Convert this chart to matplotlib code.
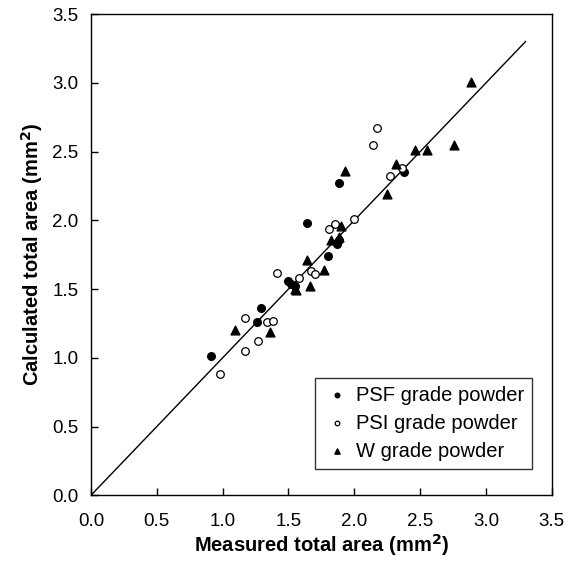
import matplotlib
matplotlib.use("Agg")
import matplotlib.pyplot as plt

plt.rcParams["font.family"] = ["Liberation Sans", "DejaVu Sans"]

# PSF grade powder (filled circles)
psf_x = [0.91, 1.29, 1.26, 1.50, 1.52, 1.55, 1.64, 1.80, 1.87, 1.88, 1.88, 2.38]
psf_y = [1.01, 1.36, 1.26, 1.56, 1.54, 1.52, 1.98, 1.74, 1.83, 1.86, 2.27, 2.35]

# PSI grade powder (open circles)
psi_x = [0.98, 1.17, 1.17, 1.27, 1.34, 1.38, 1.41, 1.58, 1.67, 1.70, 1.81, 1.85,
         2.00, 2.14, 2.17, 2.27, 2.36]
psi_y = [0.88, 1.05, 1.29, 1.12, 1.26, 1.27, 1.62, 1.58, 1.63, 1.61, 1.94, 1.97,
         2.01, 2.55, 2.67, 2.32, 2.38]

# W grade powder (filled triangles)
w_x = [1.09, 1.36, 1.55, 1.56, 1.64, 1.66, 1.77, 1.82, 1.88, 1.90, 1.93, 2.25,
       2.32, 2.46, 2.55, 2.76, 2.89]
w_y = [1.20, 1.19, 1.50, 1.49, 1.71, 1.52, 1.64, 1.86, 1.88, 1.96, 2.36, 2.19,
       2.41, 2.51, 2.51, 2.55, 3.01]

line_x = [0.0, 3.3]

fig = plt.figure(figsize=(5.76, 5.66), dpi=100)
ax = fig.add_axes([0.158, 0.125, 0.80, 0.85])

ax.plot(line_x, line_x, color="black", linewidth=1.0, zorder=1)
ax.scatter(psf_x, psf_y, s=30, marker="o", color="black", zorder=3,
           label="PSF grade powder")
ax.scatter(psi_x, psi_y, s=30, marker="o", facecolor="white", edgecolor="black",
           linewidth=0.9, zorder=3, label="PSI grade powder")
ax.scatter(w_x, w_y, s=40, marker="^", color="black", zorder=3,
           label="W grade powder")

ax.set_xlim(0, 3.5)
ax.set_ylim(0, 3.5)
ticks = [0.0, 0.5, 1.0, 1.5, 2.0, 2.5, 3.0, 3.5]
ax.set_xticks(ticks)
ax.set_yticks(ticks)
ax.set_xticklabels([f"{t:.1f}" for t in ticks])
ax.set_yticklabels([f"{t:.1f}" for t in ticks])
ax.tick_params(labelsize=13.5, direction="in", length=5, width=1, pad=9)
ax.tick_params(axis="x", pad=13)
for sp in ax.spines.values():
    sp.set_linewidth(1.0)

ax.set_xlabel("Measured total area (mm$^\\mathbf{2}$)", fontsize=14.5, fontweight="bold",
              labelpad=1)
ax.set_ylabel("Calculated total area (mm$^\\mathbf{2}$)", fontsize=14.5, fontweight="bold",
              labelpad=5)

leg = ax.legend(loc="lower right", fontsize=14.5, frameon=True, fancybox=False,
                edgecolor="black", handlelength=1.4, handletextpad=0.25,
                borderpad=0.4, borderaxespad=0, labelspacing=0.45,
                markerscale=0.6, bbox_to_anchor=(0.958, 0.055))
leg.get_frame().set_linewidth(1.0)

plt.savefig("out.png", dpi=100)
plt.close()
